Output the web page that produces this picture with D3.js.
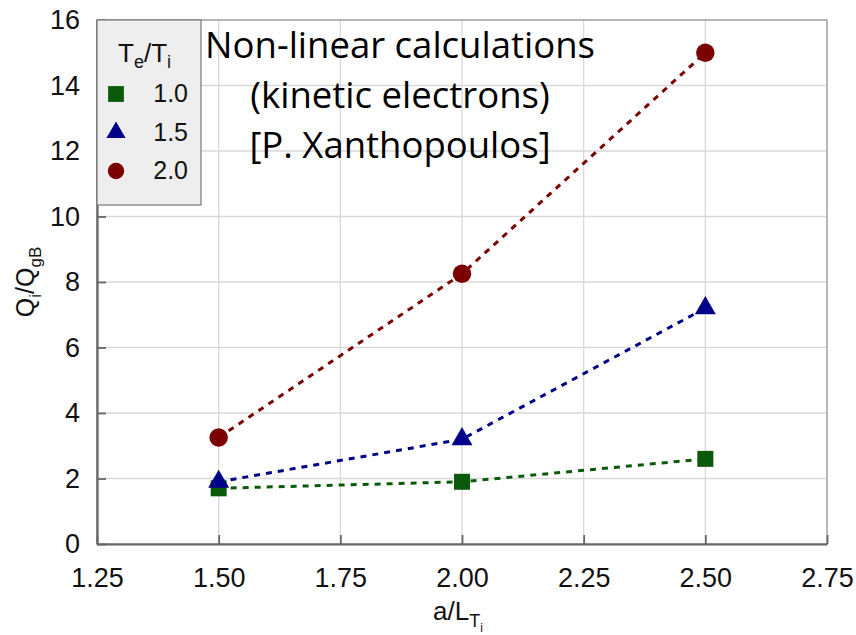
<!DOCTYPE html>
<html>
<head>
<meta charset="utf-8">
<script src="https://cdn.jsdelivr.net/npm/d3@7"></script>
<style>
  body { margin: 0; background: #fff; }
  svg { display: block; font-family: "Liberation Sans", Arial, sans-serif; }
</style>
</head>
<body>
<svg id="chart" width="856" height="635"></svg>
<script>
// data
const xValues = [1.5, 2.0, 2.5];
const seriesNames = ["1.0", "1.5", "2.0"];
const q10 = [1.7, 1.9, 2.6];
const q15 = [1.9, 3.2, 7.2];
const q20 = [3.25, 8.25, 15.0];
const xTicks = [1.25, 1.5, 1.75, 2.0, 2.25, 2.5, 2.75];
const yTicks = [0, 2, 4, 6, 8, 10, 12, 14, 16];
const noteLines = ["Non-linear calculations", "(kinetic electrons)", "[P. Xanthopoulos]"];

const series = [
  { name: seriesNames[0], values: q10, color: "#0b5a0b", shape: d3.symbolSquare },
  { name: seriesNames[1], values: q15, color: "#000088", shape: d3.symbolTriangle },
  { name: seriesNames[2], values: q20, color: "#7c0000", shape: d3.symbolCircle }
];

const margin = { left: 97, right: 29, top: 20, bottom: 91 };
const W = 856, H = 635;
const svg = d3.select("#chart");

const x = d3.scaleLinear().domain([1.25, 2.75]).range([margin.left, W - margin.right]);
const y = d3.scaleLinear().domain([0, 16]).range([H - margin.bottom, margin.top]);

// grid
svg.append("g").selectAll("line").data(xTicks).join("line")
  .attr("x1", d => x(d)).attr("x2", d => x(d))
  .attr("y1", y(0)).attr("y2", y(16))
  .attr("stroke", "#d9d9d9").attr("stroke-width", 1.3);
svg.append("g").selectAll("line").data(yTicks).join("line")
  .attr("x1", x(1.25)).attr("x2", x(2.75))
  .attr("y1", d => y(d)).attr("y2", d => y(d))
  .attr("stroke", "#d9d9d9").attr("stroke-width", 1.3);

// frame
svg.append("rect")
  .attr("x", x(1.25)).attr("y", y(16))
  .attr("width", x(2.75) - x(1.25)).attr("height", y(0) - y(16))
  .attr("fill", "none").attr("stroke", "#8a8a8a").attr("stroke-width", 1);

// axes with inward ticks
const xAxis = svg.append("g").attr("transform", `translate(0,${y(0)})`)
  .call(d3.axisBottom(x).tickValues(xTicks).tickFormat(d3.format(".2f")).tickSizeInner(-9).tickSizeOuter(0).tickPadding(24));
const yAxis = svg.append("g").attr("transform", `translate(${x(1.25)},0)`)
  .call(d3.axisLeft(y).tickValues(yTicks).tickFormat(d3.format("d")).tickSizeInner(-9).tickSizeOuter(0).tickPadding(17));
[xAxis, yAxis].forEach(g => {
  g.attr("font-size", 27).attr("font-family", "'Liberation Sans', Arial, sans-serif");
  g.select(".domain").attr("stroke", "#666").attr("stroke-width", 2.2);
  g.selectAll(".tick line").attr("stroke", "#666").attr("stroke-width", 1.8);
  g.selectAll(".tick text").attr("fill", "#111");
});

// axis titles
const xt = svg.append("text").attr("x", 433).attr("y", 620)
  .attr("font-size", 26).attr("fill", "#111");
xt.append("tspan").text("a/L");
xt.append("tspan").attr("font-size", 18).attr("dy", 7).text("T");
xt.append("tspan").attr("font-size", 12).attr("dy", 5).text("i");

const yt = svg.append("text").attr("transform", `translate(34,${y(8)}) rotate(-90)`)
  .attr("text-anchor", "middle").attr("font-size", 25).attr("fill", "#111");
yt.append("tspan").text("Q");
yt.append("tspan").attr("font-size", 17).attr("dy", 7).text("i");
yt.append("tspan").attr("dy", -7).text("/Q");
yt.append("tspan").attr("font-size", 17).attr("dy", 7).text("gB");

// lines + markers
const line = d3.line().x((d, i) => x(xValues[i])).y(d => y(d));
series.forEach(s => {
  svg.append("path").datum(s.values)
    .attr("d", line).attr("fill", "none")
    .attr("stroke", s.color).attr("stroke-width", 3)
    .attr("stroke-dasharray", "6,6");
});
const sizeOf = shape => shape === d3.symbolCircle ? 270 : shape === d3.symbolSquare ? 256 : 190;
series.forEach(s => {
  svg.append("g").selectAll("path").data(s.values).join("path")
    .attr("transform", (d, i) => `translate(${x(xValues[i])},${y(d)})`)
    .attr("d", d3.symbol(s.shape, sizeOf(s.shape)))
    .attr("fill", s.color);
});

// note
const note = svg.append("text").attr("font-family", "'Open Sans', Lato, sans-serif")
  .attr("font-size", 36.5).attr("fill", "#000").attr("text-anchor", "middle");
noteLines.forEach((t, i) => note.append("tspan").attr("x", 400).attr("y", 58 + i * 50).text(t));

// legend
const lg = svg.append("g").attr("transform", `translate(${x(1.25)},${y(16)})`);
lg.append("rect").attr("width", 104).attr("height", 185)
  .attr("fill", "#eeeeee").attr("stroke", "#777").attr("stroke-width", 1.2);
const lt = lg.append("text").attr("x", 21).attr("y", 42)
  .attr("font-size", 26).attr("fill", "#111");
lt.append("tspan").text("T");
lt.append("tspan").attr("font-size", 18).attr("dy", 6).text("e");
lt.append("tspan").attr("dy", -6).text("/T");
lt.append("tspan").attr("font-size", 18).attr("dy", 6).text("i");
series.forEach((s, i) => {
  const ly = 74 + i * 38.5;
  lg.append("path").attr("transform", `translate(19,${ly})`)
    .attr("d", d3.symbol(s.shape, s.shape === d3.symbolCircle ? 210 : s.shape === d3.symbolSquare ? 250 : 160))
    .attr("fill", s.color);
  lg.append("text").attr("x", 91).attr("y", ly + 8).attr("text-anchor", "end")
    .attr("font-size", 25).attr("fill", "#111").text(s.name);
});
</script>
</body>
</html>
